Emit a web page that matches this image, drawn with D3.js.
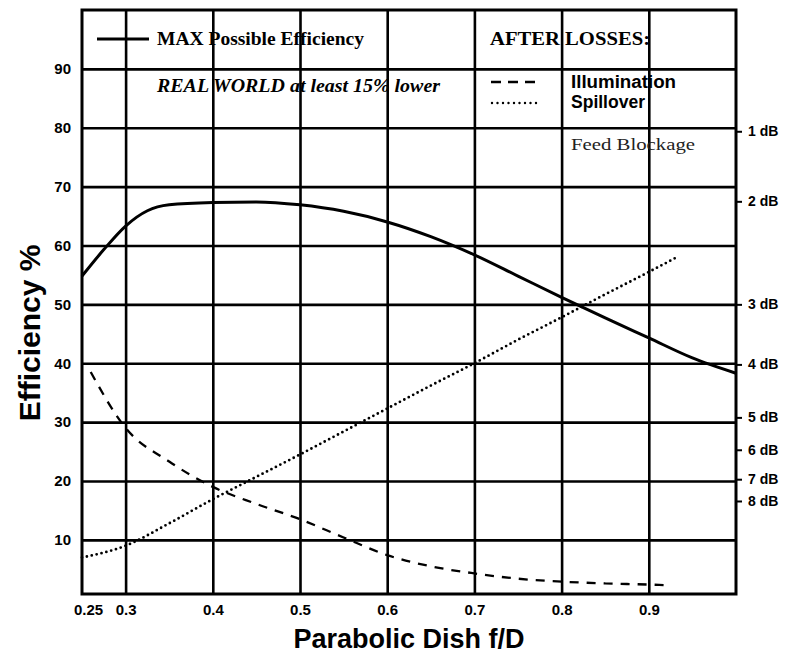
<!DOCTYPE html>
<html>
<head>
<meta charset="utf-8">
<script src="https://cdn.jsdelivr.net/npm/d3@7"></script>
<style>
  html, body { margin: 0; padding: 0; background: #fff; }
  svg { display: block; }
</style>
</head>
<body>
<svg id="chart" width="785" height="658"></svg>
<script>
// ---- data ----
const xTickValues = [0.25, 0.3, 0.4, 0.5, 0.6, 0.7, 0.8, 0.9];
const xTickLabels = ["0.25", "0.3", "0.4", "0.5", "0.6", "0.7", "0.8", "0.9"];
const xGridValues = [0.3, 0.4, 0.5, 0.6, 0.7, 0.8, 0.9];
const yTickValues = [10, 20, 30, 40, 50, 60, 70, 80, 90];
const dbTickValues = [79.4, 67.5, 50.0, 39.8, 30.8, 25.3, 20.3, 16.6];
const dbTickLabels = ["1 dB", "2 dB", "3 dB", "4 dB", "5 dB", "6 dB", "7 dB", "8 dB"];

const maxFD  = [0.25, 0.275, 0.3, 0.325, 0.35, 0.4, 0.45, 0.5, 0.55, 0.6, 0.65, 0.7, 0.75, 0.8, 0.85, 0.9, 0.95, 1.0];
const maxEff = [54.8, 59.3, 63.3, 65.9, 66.9, 67.3, 67.4, 66.9, 65.8, 64.0, 61.5, 58.4, 54.8, 51.2, 47.7, 44.3, 40.9, 38.3];

const illumFD  = [0.26, 0.3, 0.35, 0.4, 0.45, 0.5, 0.55, 0.6, 0.65, 0.7, 0.75, 0.8, 0.85, 0.9, 0.92];
const illumEff = [38.5, 29.0, 23.3, 19.0, 16.1, 13.5, 10.4, 7.4, 5.5, 4.3, 3.4, 2.9, 2.6, 2.4, 2.3];

const spillFD  = [0.25, 0.3, 0.35, 0.4, 0.45, 0.5, 0.55, 0.6, 0.65, 0.7, 0.75, 0.8, 0.85, 0.9, 0.932];
const spillEff = [7.0, 9.0, 12.8, 16.9, 20.7, 24.5, 28.4, 32.3, 36.2, 40.0, 44.0, 47.8, 51.7, 55.5, 58.0];

// ---- layout ----
const svg = d3.select("#chart");
const L = 82, R = 736, T = 10, B = 594;
const x = d3.scaleLinear().domain([0.25, 1.0]).range([L, R]);
const y = d3.scaleLinear().domain([0.8, 100]).range([B, T]);

svg.append("rect").attr("width", 785).attr("height", 658).attr("fill", "#fff");

// horizontal gridlines
const gy = svg.append("g").attr("transform", `translate(${L},0)`)
  .call(d3.axisLeft(y).tickValues(yTickValues).tickSize(-(R - L)).tickFormat(""));
gy.select(".domain").remove();
gy.selectAll("line").attr("stroke", "#000").attr("stroke-width", 2.6);

// vertical gridlines
const gx = svg.append("g").attr("transform", `translate(0,${B})`)
  .call(d3.axisBottom(x).tickValues(xGridValues).tickSize(-(B - T)).tickFormat(""));
gx.select(".domain").remove();
gx.selectAll("line").attr("stroke", "#000").attr("stroke-width", 2.6);

// x labels
const xl = svg.append("g").attr("transform", `translate(0,${B})`)
  .call(d3.axisBottom(x).tickValues(xTickValues).tickSize(0).tickPadding(10)
    .tickFormat((d, i) => xTickLabels[i]));
xl.select(".domain").remove();
xl.selectAll("text").attr("font-family", "Liberation Sans, Arial, sans-serif")
  .attr("font-size", 15).attr("font-weight", "bold").attr("fill", "#000");
xl.selectAll("text").filter(d => d === 0.25).attr("dx", 6);

// y labels
const yl = svg.append("g").attr("transform", `translate(${L},0)`)
  .call(d3.axisLeft(y).tickValues(yTickValues).tickSize(0).tickPadding(11));
yl.select(".domain").remove();
yl.selectAll("text").attr("font-family", "Liberation Sans, Arial, sans-serif")
  .attr("font-size", 15).attr("font-weight", "bold").attr("fill", "#000");

// right dB axis
const ra = svg.append("g").attr("transform", `translate(${R},0)`)
  .call(d3.axisRight(y).tickValues(dbTickValues).tickSize(6).tickPadding(6)
    .tickFormat((d, i) => dbTickLabels[i]));
ra.select(".domain").remove();
ra.selectAll("line").attr("stroke", "#000").attr("stroke-width", 2);
ra.selectAll("text").attr("font-family", "Liberation Sans, Arial, sans-serif")
  .attr("font-size", 14).attr("font-weight", "bold").attr("fill", "#000");

// frame
svg.append("rect").attr("x", L).attr("y", T).attr("width", R - L).attr("height", B - T)
  .attr("fill", "none").attr("stroke", "#000").attr("stroke-width", 3);

// curves
const line = d3.line().x(d => x(d[0])).y(d => y(d[1])).curve(d3.curveMonotoneX);
svg.append("path").datum(maxFD.map((v, i) => [v, maxEff[i]]))
  .attr("d", line).attr("fill", "none").attr("stroke", "#000").attr("stroke-width", 3);
svg.append("path").datum(illumFD.map((v, i) => [v, illumEff[i]]))
  .attr("d", line).attr("fill", "none").attr("stroke", "#000").attr("stroke-width", 2.3)
  .attr("stroke-dasharray", "9,8");
svg.append("path").datum(spillFD.map((v, i) => [v, spillEff[i]]))
  .attr("d", line).attr("fill", "none").attr("stroke", "#000").attr("stroke-width", 2.8)
  .attr("stroke-dasharray", "0,5").attr("stroke-linecap", "round");

// legend / annotations
const serif = "Liberation Serif, Times New Roman, serif";
const sans = "Liberation Sans, Arial, sans-serif";
svg.append("line").attr("x1", 97).attr("x2", 149).attr("y1", 39).attr("y2", 39)
  .attr("stroke", "#000").attr("stroke-width", 3);
svg.append("text").attr("x", 157).attr("y", 45).attr("font-family", serif)
  .attr("font-size", 19).attr("font-weight", "bold").attr("textLength", 207)
  .attr("lengthAdjust", "spacingAndGlyphs").text("MAX Possible Efficiency");
svg.append("text").attr("x", 157).attr("y", 92).attr("font-family", serif)
  .attr("font-size", 19).attr("font-weight", "bold").attr("font-style", "italic")
  .attr("textLength", 283).attr("lengthAdjust", "spacingAndGlyphs")
  .text("REAL WORLD at least 15% lower");
svg.append("text").attr("x", 490).attr("y", 45).attr("font-family", serif)
  .attr("font-size", 19).attr("font-weight", "bold").attr("textLength", 160)
  .attr("lengthAdjust", "spacingAndGlyphs").text("AFTER LOSSES:");
svg.append("line").attr("x1", 491).attr("x2", 535).attr("y1", 82).attr("y2", 82)
  .attr("stroke", "#000").attr("stroke-width", 2.4).attr("stroke-dasharray", "10,7");
svg.append("line").attr("x1", 492).attr("x2", 538).attr("y1", 103).attr("y2", 103)
  .attr("stroke", "#000").attr("stroke-width", 2.4).attr("stroke-dasharray", "0,5.5")
  .attr("stroke-linecap", "round");
svg.append("text").attr("x", 571).attr("y", 88).attr("font-family", sans)
  .attr("font-size", 18).attr("font-weight", "bold").attr("textLength", 105)
  .attr("lengthAdjust", "spacingAndGlyphs").text("Illumination");
svg.append("text").attr("x", 571).attr("y", 108).attr("font-family", sans)
  .attr("font-size", 18).attr("font-weight", "bold").attr("textLength", 74)
  .attr("lengthAdjust", "spacingAndGlyphs").text("Spillover");
svg.append("text").attr("x", 571).attr("y", 150).attr("font-family", serif)
  .attr("font-size", 17).attr("fill", "#222").attr("textLength", 124)
  .attr("lengthAdjust", "spacingAndGlyphs").text("Feed Blockage");

// axis titles
svg.append("text").attr("x", (L + R) / 2).attr("y", 648).attr("text-anchor", "middle")
  .attr("font-family", sans).attr("font-size", 27).attr("font-weight", "bold")
  .text("Parabolic Dish f/D");
svg.append("text").attr("transform", "translate(40,333) rotate(-90)")
  .attr("text-anchor", "middle").attr("font-family", sans).attr("font-size", 30)
  .attr("font-weight", "bold").text("Efficiency %");
</script>
</body>
</html>
